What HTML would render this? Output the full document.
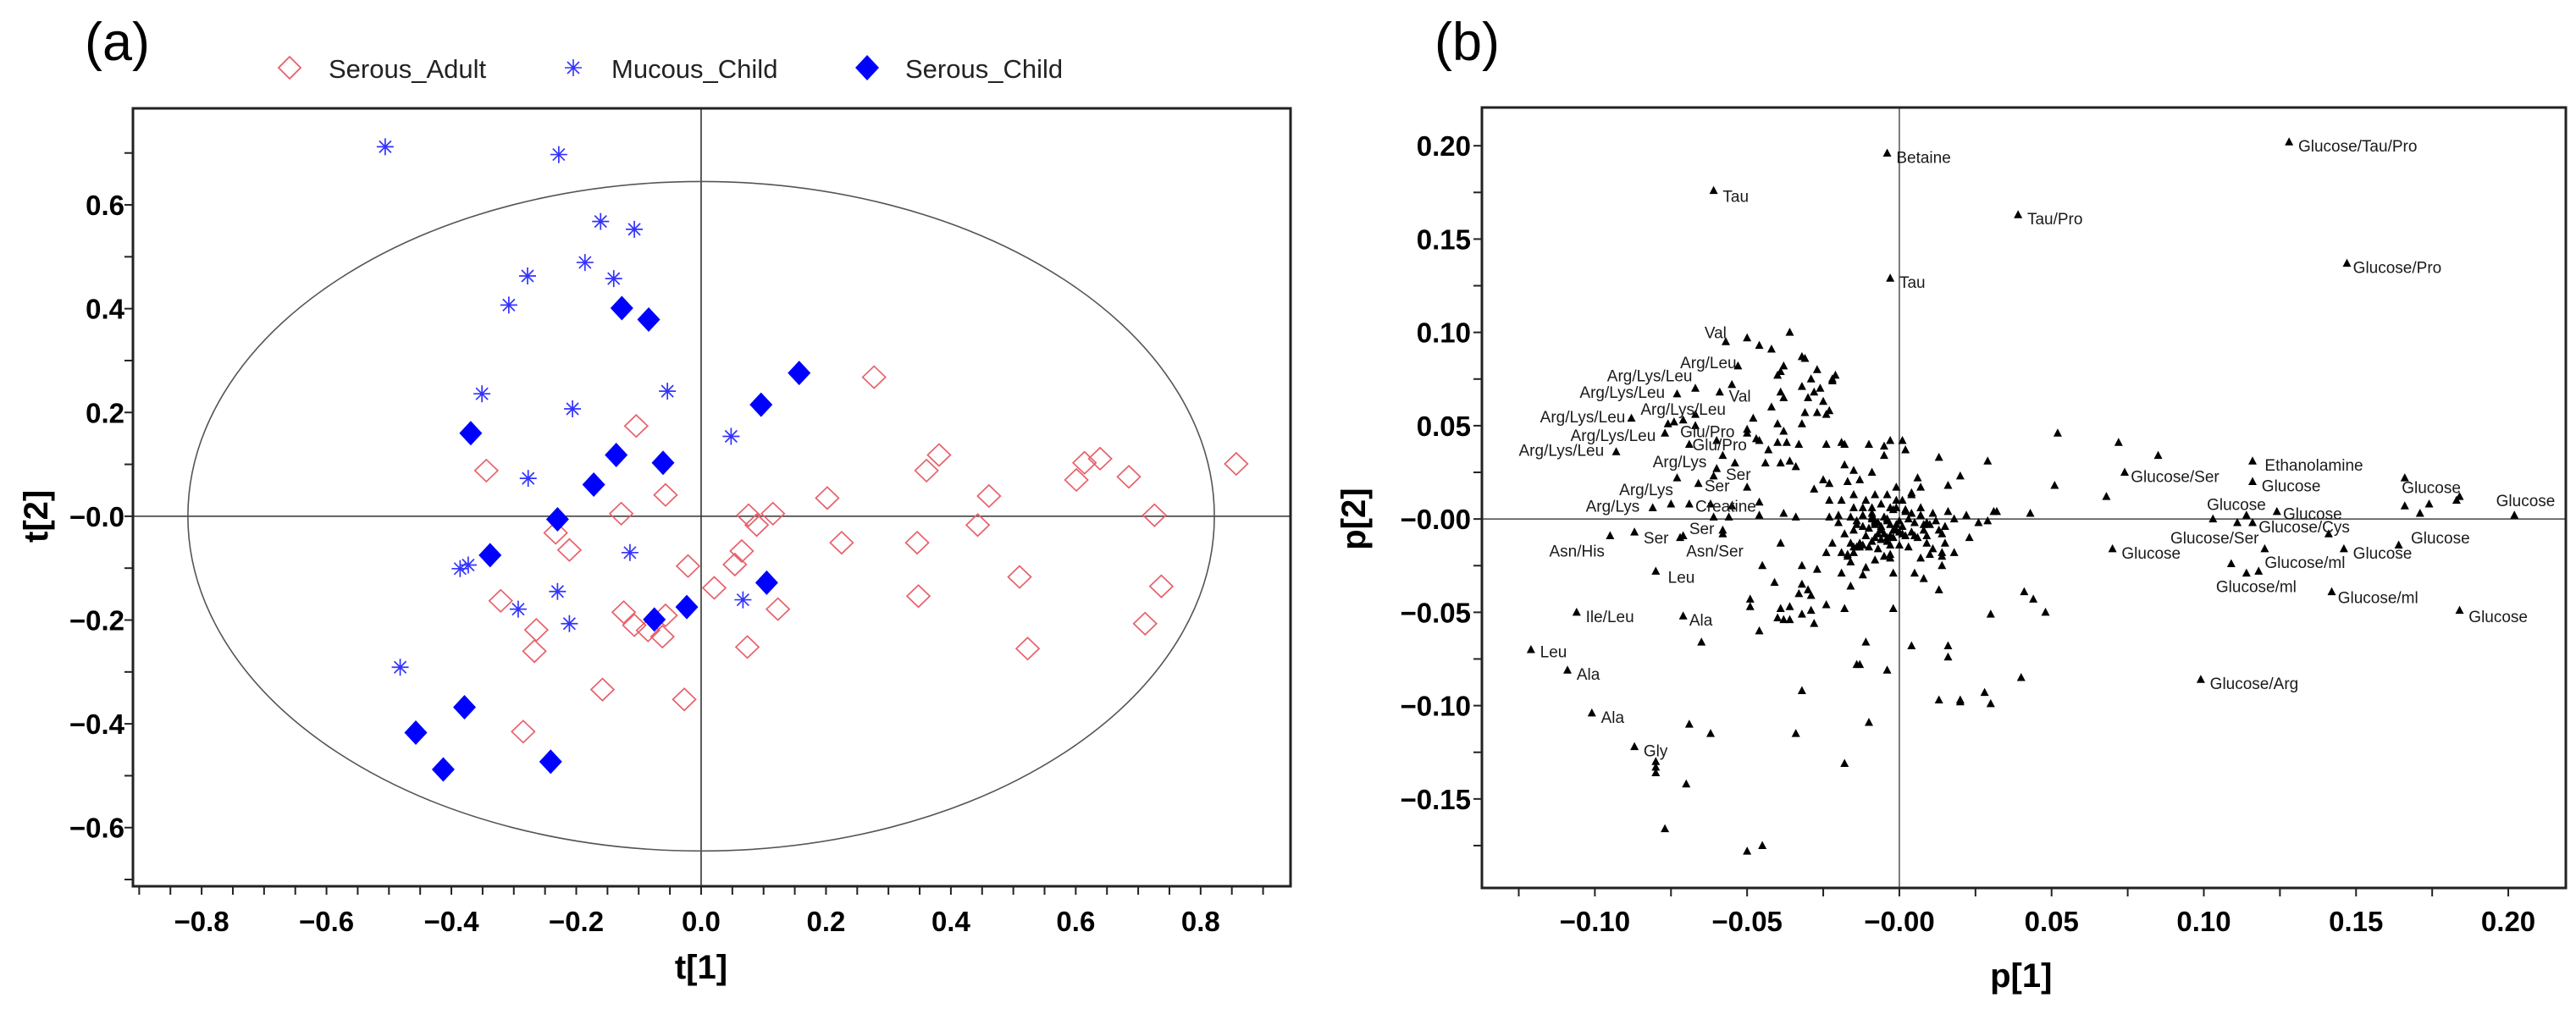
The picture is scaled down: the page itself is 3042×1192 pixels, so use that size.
<!DOCTYPE html>
<html><head><meta charset="utf-8"><title>PCA scores and loadings</title>
<style>
html,body{margin:0;padding:0;background:#fff;}
svg{display:block;font-family:"Liberation Sans",Arial,sans-serif;}
</style></head>
<body>
<svg id="fig" width="3042" height="1192" viewBox="0 0 3042 1192" xmlns="http://www.w3.org/2000/svg">
<rect x="0" y="0" width="3042" height="1192" fill="#fff"/>
<text x="100" y="71" font-size="63">(a)</text>
<text x="1694" y="71" font-size="63">(b)</text>
<g>
  <g>
    <path d="M342,67 L355,80 L342,93 L329,80 Z" fill="none" stroke="#e8606a" stroke-width="1.8"/>
    <text x="388" y="92" font-size="31" fill="#222">Serous_Adult</text>
  </g>
  <g>
    <path d="M677,70 V90 M667,80 H687 M670,73 L684,87 M684,73 L670,87" stroke="#3333ff" stroke-width="1.6"/>
    <text x="722" y="92" font-size="31" fill="#222">Mucous_Child</text>
  </g>
  <g>
    <path d="M1024,65 L1038,80 L1024,95 L1010,80 Z" fill="#0000ff"/>
    <text x="1069" y="92" font-size="31" fill="#222">Serous_Child</text>
  </g>
</g>
<g id="pa"></g>
<g id="pb"></g>
</svg>
<script>
// ---------- Panel (a) data: t[1], t[2] scores ----------
const adultT1 = [0.277,-0.104,0.381,0.361,0.614,0.639,0.601,0.685,0.857,-0.344,-0.057,0.202,0.461,-0.128,0.076,0.115,0.089,0.726,0.443,-0.233,-0.211,0.225,0.346,0.065,-0.021,0.054,0.510,0.737,0.021,-0.321,0.348,-0.124,-0.057,0.123,-0.264,-0.107,-0.085,-0.062,-0.267,0.074,0.523,0.711,-0.158,-0.027,-0.285];
const adultT2 = [0.268,0.174,0.118,0.088,0.103,0.111,0.070,0.076,0.101,0.088,0.041,0.035,0.039,0.005,0.002,0.005,-0.017,0.002,-0.017,-0.032,-0.065,-0.051,-0.051,-0.067,-0.096,-0.093,-0.117,-0.135,-0.138,-0.163,-0.154,-0.185,-0.191,-0.179,-0.219,-0.210,-0.220,-0.232,-0.260,-0.252,-0.255,-0.207,-0.334,-0.353,-0.415];
const mucousT1 = [-0.506,-0.228,-0.161,-0.107,-0.186,-0.278,-0.140,-0.308,-0.351,-0.206,-0.054,0.048,-0.277,-0.114,-0.386,-0.373,-0.230,-0.293,-0.211,0.067,-0.482];
const mucousT2 = [0.712,0.697,0.568,0.553,0.489,0.463,0.458,0.407,0.236,0.207,0.241,0.154,0.073,-0.070,-0.101,-0.094,-0.145,-0.179,-0.207,-0.161,-0.291];
const childT1 = [-0.127,-0.084,0.157,0.096,-0.369,-0.136,-0.061,-0.172,-0.230,-0.338,0.105,-0.023,-0.075,-0.379,-0.457,-0.413,-0.241];
const childT2 = [0.401,0.379,0.276,0.215,0.160,0.118,0.103,0.061,-0.006,-0.075,-0.128,-0.175,-0.199,-0.368,-0.417,-0.488,-0.473];
const aXTicks = ["-0.8","-0.6","-0.4","-0.2","0.0","0.2","0.4","0.6","0.8"];
const aYTicks = ["0.6","0.4","0.2","-0.0","-0.2","-0.4","-0.6"];
const ellipseT1 = 0.822, ellipseT2 = 0.645;

// ---------- Panel (b) data: p[1], p[2] loadings (x1000) ----------
const loadP1 = [128,147,39,-4,-3,-61,52,72,85,74,51,68,116,116,166,184,183,166,174,171,202,103,111,114,116,124,141,70,120,146,164,109,114,118,142,184,99,32,43,22,26,29,41,44,48,30,40,16,16,13,20,20,28,30,4,-2,-4,-10,-11,-14,-13,-18,-32,-34,-45,-50,-69,-62,-70,-77,-80,-80,-80,-87,-101,-109,-121,-106,-71,-65,-80,-95,-87,-72,-71,-58,-49,-46,-49,-45,-41,-32,-27,-32,-30,-36,-38,-40,-36,-32,-29,-28,-24,-33,-39,-29,-39,-17,-19,-12,-18,-16,-11,-2,5,8,13,10,14,9,15,23,31,20,29,13,16,6,2,-3,1,-5,-5,-10,-15,-9,-13,-17,-23,-25,-18,-18,-19,-24,-33,-36,-43,-44,-46,-47,-40,-37,-38,-32,-31,-27,-24,-23,-25,-30,-28,-26,-39,-42,-38,-32,-29,-22,-22,-21,-27,-31,-32,-39,-38,-40,-42,-36,-46,-50,-53,-55,-50,-50,-60,-58,-54,-61,-66,-75,-69,-61,-56,-58,-60,-73,-67,-69,-77,-76,-74,-71,-67,-88,-93,-81,-73,-67,-59,-57,-48,-40,-39,-34,-28,-23,-19,-15,-12,-9,-38,-34,-46,-55,-62,-50,-46,-9,-8,-7,-5,-4,-3,-1,0,1,-5,-7,-11,-9,-6,-2,1,3,4,7,5,4,-12,-14,-15,-10,-7,-3,0,-5,-3,-8,-1,-4,-6,-9,-1,-3,2,-12,-15,5,8,9,11,12,14,15,9,11,7,14,18,18,16,4,7,-8,-11,-15,-16,-18,-20,-23,-22,-24,-19,-16,-6,-4,-2,-1,2,3,-6,-8,-10,-3,0,6,-13,-17,-20,-14,-9,-6,-4,-3,-2,-8,-13,-14,-16,-12,-8,2,4,1,-1,-2,-4,8,7,10,13,14,-15,-6,0];
const loadP2 = [202,137,163,196,129,176,46,41,34,25,18,12,31,20,22,12,10,7,8,3,2,0,-2,2,-2,4,-8,-16,-16,-16,-14,-24,-29,-28,-39,-49,-86,4,3,2,-2,-1,-39,-43,-50,-51,-85,-68,-74,-97,-97,-98,-93,-99,-68,-48,-81,-109,-66,-78,-78,-131,-92,-115,-175,-178,-110,-115,-142,-166,-133,-136,-130,-122,-104,-81,-70,-50,-52,-66,-28,-9,-7,-10,-9,-6,-47,-60,-43,-25,-34,-25,-27,-35,-38,-47,-54,-53,-54,-51,-49,-56,-46,-40,-13,-41,-48,-19,-29,-30,-48,-36,-26,-29,-29,-32,-38,-19,-18,-13,-13,-10,4,23,31,33,18,22,37,42,42,39,34,40,26,25,21,20,19,21,29,40,41,40,40,31,37,30,42,43,41,41,47,51,57,57,56,58,63,65,68,70,68,60,65,71,75,75,74,77,80,86,87,79,82,77,91,100,93,97,82,72,48,46,42,34,30,23,19,8,8,1,1,-8,27,22,50,40,46,51,52,53,56,54,36,6,67,70,68,95,54,51,30,28,16,10,10,13,6,1,3,1,2,7,8,17,9,3,-1,-2,1,-1,-3,-6,-1,-4,-8,-8,-9,-12,-11,-10,-8,0,3,6,-2,-7,-4,-1,-6,-15,-16,-14,-14,-20,-21,-22,10,13,8,6,17,6,4,-14,-18,-9,-6,-2,3,-1,-8,-4,-9,-16,-21,-25,-18,0,4,13,17,13,10,6,1,-8,-2,1,-13,-18,-18,-23,-4,-12,-6,-3,5,-15,-11,-2,-5,-19,-7,-10,-13,-20,2,-3,0,-6,-10,-9,-6,-10,-15,-15,-13,2,-3,-9,14,10,6,5,0,-3,2,-3,-6,-20,-15];
const labelText = ["Betaine","Tau","Tau/Pro","Tau","Glucose/Tau/Pro","Glucose/Pro","Val","Arg/Leu","Arg/Lys/Leu","Arg/Lys/Leu","Val","Arg/Lys/Leu","Arg/Lys/Leu","Glu/Pro","Arg/Lys/Leu","Glu/Pro","Arg/Lys/Leu","Arg/Lys","Ser","Ser","Arg/Lys","Creatine","Arg/Lys","Ser","Ser","Asn/Ser","Asn/His","Leu","Ile/Leu","Ala","Leu","Ala","Ala","Gly","Glucose/Ser","Ethanolamine","Glucose","Glucose","Glucose","Glucose/Cys","Glucose/Ser","Glucose","Glucose/ml","Glucose/ml","Glucose/ml","Glucose","Glucose","Glucose","Glucose","Glucose","Glucose/Arg"];
const labelP1 = [-1,-58,42,0,131,149,-64,-72,-96,-105,-56,-85,-118,-72,-108,-68,-125,-81,-57,-64,-92,-67,-103,-69,-84,-70,-115,-76,-103,-69,-118,-106,-98,-84,76,120,119,101,126,118,89,73,120,104,144,149,168,165,196,187,102];
const labelP2 = [194,173,161,127,200,135,100,84,77,68,66,59,55,47,45,40,37,31,24,18,16,7,7,-5,-10,-17,-17,-31,-52,-54,-71,-83,-106,-124,23,29,18,8,3,-4,-10,-18,-23,-36,-42,-18,-10,17,10,-52,-88];
const bXTicks = ["-0.10","-0.05","-0.00","0.05","0.10","0.15","0.20"];
const bYTicks = ["0.20","0.15","0.10","0.05","-0.00","-0.05","-0.10","-0.15"];

const NS = "http://www.w3.org/2000/svg";
function mk(parent, tag, attrs, txt){
  const e = document.createElementNS(NS, tag);
  for (const k in attrs) e.setAttribute(k, attrs[k]);
  if (txt !== undefined) e.textContent = txt;
  parent.appendChild(e);
  return e;
}
function lin(d0, d1, r0, r1){ return v => r0 + (v - d0) * (r1 - r0) / (d1 - d0); }
function fmt(s){ return s.replace("-", "\u2212"); }

// ---------- Panel (a) ----------
(function(){
  const g = document.getElementById("pa");
  const L = 157, R = 1524, T = 128, B = 1047;
  const x = lin(-0.910, 0.944, L, R);
  const y = lin(0.786, -0.713, T, B);
  let e = mk(g, "line", {x1: x(0), x2: x(0), y1: T, y2: B, stroke: "#333", "stroke-width": 1.6});
  
  
  e = mk(g, "line", {x1: L, x2: R, y1: y(0), y2: y(0), stroke: "#333", "stroke-width": 1.6});
  
  
  e = mk(g, "ellipse", {cx: x(0), cy: y(0), rx: x(ellipseT1) - x(0), ry: y(-ellipseT2) - y(0), fill: "none", stroke: "#555", "stroke-width": 1.6});
  
  
  e = mk(g, "rect", {x: L, y: T, width: R - L, height: B - T, fill: "none", stroke: "#222", "stroke-width": 3});
  
  
  for (let v = -0.9; v <= 0.901; v += 0.05) {
    e = mk(g, "line", {x1: x(v), x2: x(v), y1: B, y2: B + 10, stroke: "#222", "stroke-width": 2});
    
    
  }
  for (let v = -0.7; v <= 0.701; v += 0.1) {
    e = mk(g, "line", {x1: L - 10, x2: L, y1: y(v), y2: y(v), stroke: "#222", "stroke-width": 2});
    
    
  }
  aXTicks.forEach(s => {
    e = mk(g, "text", {x: x(parseFloat(s)), y: 1100, "font-size": 33, "font-weight": "bold", "text-anchor": "middle"}, fmt(s));
    
    
  });
  aYTicks.forEach(s => {
    e = mk(g, "text", {x: 147, y: y(parseFloat(s)) + 12, "font-size": 33, "font-weight": "bold", "text-anchor": "end"}, fmt(s));
    
    
  });
  e = mk(g, "text", {x: x(0), y: 1156, "font-size": 40, "font-weight": "bold", "text-anchor": "middle"}, "t[1]");
  
  
  e = mk(g, "text", {x: 0, y: 0, "font-size": 40, "font-weight": "bold", "text-anchor": "middle", transform: "translate(56," + y(0) + ") rotate(-90)"}, "t[2]");
  
  
  adultT1.forEach((v, i) => {
    const cx = x(v), cy = y(adultT2[i]);
    e = mk(g, "path", {d: `M${cx},${cy-13} L${cx+13.5},${cy} L${cx},${cy+13} L${cx-13.5},${cy} Z`, fill: "none", stroke: "#e8606a", "stroke-width": 1.7});
    
    
  });
  mucousT1.forEach((v, i) => {
    const cx = x(v), cy = y(mucousT2[i]);
    e = mk(g, "path", {d: `M${cx},${cy-10} V${cy+10} M${cx-10},${cy} H${cx+10} M${cx-7},${cy-7} L${cx+7},${cy+7} M${cx+7},${cy-7} L${cx-7},${cy+7}`, stroke: "#3333ff", "stroke-width": 1.7});
    
    
  });
  childT1.forEach((v, i) => {
    const cx = x(v), cy = y(childT2[i]);
    e = mk(g, "path", {d: `M${cx},${cy-14.5} L${cx+13.5},${cy} L${cx},${cy+14.5} L${cx-13.5},${cy} Z`, fill: "#0000ff"});
    
    
  });
})();

// ---------- Panel (b) ----------
(function(){
  const g = document.getElementById("pb");
  const L = 1750, R = 3030, T = 127, B = 1049;
  const x = lin(-0.1371, 0.2189, L, R);
  const y = lin(0.2205, -0.1977, T, B);
  let e = mk(g, "line", {x1: x(0), x2: x(0), y1: T, y2: B, stroke: "#444", "stroke-width": 1.4});
  
  
  e = mk(g, "line", {x1: L, x2: R, y1: y(0), y2: y(0), stroke: "#444", "stroke-width": 1.4});
  
  
  e = mk(g, "rect", {x: L, y: T, width: R - L, height: B - T, fill: "none", stroke: "#222", "stroke-width": 3});
  
  
  for (let v = -0.125; v <= 0.2001; v += 0.025) {
    e = mk(g, "line", {x1: x(v), x2: x(v), y1: B, y2: B + 10, stroke: "#222", "stroke-width": 2});
    
    
  }
  for (let v = -0.175; v <= 0.2001; v += 0.025) {
    e = mk(g, "line", {x1: L - 10, x2: L, y1: y(v), y2: y(v), stroke: "#222", "stroke-width": 2});
    
    
  }
  bXTicks.forEach(s => {
    e = mk(g, "text", {x: x(parseFloat(s)), y: 1100, "font-size": 33, "font-weight": "bold", "text-anchor": "middle"}, fmt(s));
    
    
  });
  bYTicks.forEach(s => {
    e = mk(g, "text", {x: 1737, y: y(parseFloat(s)) + 12, "font-size": 33, "font-weight": "bold", "text-anchor": "end"}, fmt(s));
    
    
  });
  e = mk(g, "text", {x: x(0.04), y: 1166, "font-size": 40, "font-weight": "bold", "text-anchor": "middle"}, "p[1]");
  
  
  e = mk(g, "text", {x: 0, y: 0, "font-size": 40, "font-weight": "bold", "text-anchor": "middle", transform: "translate(1612," + y(0) + ") rotate(-90)"}, "p[2]");
  
  
  loadP1.forEach((v, i) => {
    const cx = x(v / 1000), cy = y(loadP2[i] / 1000);
    e = mk(g, "path", {d: `M${cx},${cy-5.5} L${cx+5},${cy+4} L${cx-5},${cy+4} Z`, fill: "#000"});
    
    
  });
  labelText.forEach((s, i) => {
    e = mk(g, "text", {x: x(labelP1[i] / 1000), y: y(labelP2[i] / 1000) + 7, "font-size": 19, fill: "#1a1a1a"}, s);
    
    
  });
})();
</script>
</body></html>
